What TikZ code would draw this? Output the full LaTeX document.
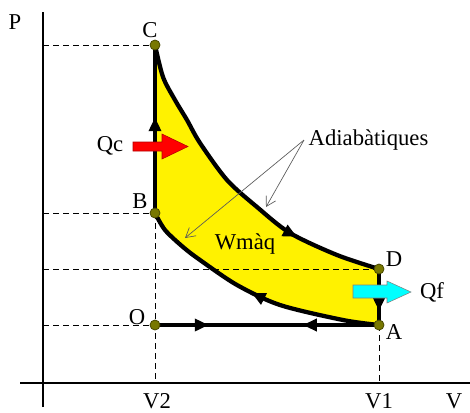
\documentclass[tikz,border=0pt]{standalone}
\usepackage{fontspec}
\setmainfont{Liberation Serif}
\usetikzlibrary{arrows.meta, decorations.markings}
\definecolor{heatout}{RGB}{0,255,255}
\definecolor{dotolive}{RGB}{120,120,0}

\begin{document}
\begin{tikzpicture}[x=0.75pt, y=-0.75pt, >={Triangle[length=10.5pt, width=9pt]},
  every node/.style={font=\fontsize{17}{20}\selectfont},
  cycleline/.style={line width=3.2pt, line join=round},
  guide/.style={dash pattern=on 4.5pt off 3pt, line width=0.6pt},
  statedot/.style={circle, fill=dotolive, draw=dotolive!60!black, line width=0.6pt, inner sep=0pt, minimum size=7.5pt},
  midarrow/.style={postaction={decorate}, decoration={markings, mark=at position #1 with {\arrow{>}}}},
  pointer/.style={->, >={Straight Barb[length=7pt, width=8pt]}, gray!70!black, line width=0.5pt}]
\useasboundingbox (0,0) rectangle (470,412);
% state points
\coordinate (C) at (155,45);
\coordinate (B) at (155,213);
\coordinate (O) at (155,325);
\coordinate (A) at (379,325);
\coordinate (D) at (379,269);
% work area between the two adiabats
\fill[yellow] plot[smooth] coordinates {(155,45) (163,77) (175,100) (187,120) (200,143) (227,180) (257,207) (290,233) (337,255) (379,269)}
  -- plot[smooth] coordinates {(379,325) (343,320) (280,305) (237,285) (200,260) (183,247) (165,230) (155,213)} -- cycle;
% axes
\coordinate (p0) at (43,407);
\coordinate (p1) at (43,12);
\coordinate (v0) at (20,383);
\coordinate (v1) at (470,383);
\draw[line width=2.2pt] (p0) -- (p1);
\draw[line width=2.2pt] (v0) -- (v1);
% guide lines
\draw[guide] (43,45) -- (C);
\draw[guide] (43,213) -- (B);
\draw[guide] (43,269) -- (D);
\draw[guide] (43,325) -- (O);
\draw[guide] (B) -- (155,383);
\draw[guide] (A) -- (379,383);
% the cycle
\draw[cycleline, midarrow=0.57] (B) -- (C);
\draw[cycleline, midarrow=0.735] plot[smooth] coordinates {(155,45) (163,77) (175,100) (187,120) (200,143) (227,180) (257,207) (290,233) (337,255) (379,269)};
\draw[cycleline, midarrow=0.75] (D) -- (A);
\draw[cycleline, midarrow=0.51] plot[smooth] coordinates {(379,325) (343,320) (280,305) (237,285) (200,260) (183,247) (165,230) (155,213)};
\draw[cycleline, midarrow=0.24] (O) -- (A);
\draw[cycleline, midarrow=0.34] (A) -- (O);
% heat in and out
\draw[fill=red, draw=red!70!black, line width=0.4pt] (133,142) -- (162,142) -- (162,134) -- (188,146.5) -- (162,159) -- (162,151) -- (133,151) -- cycle;
\draw[fill=heatout, draw=gray, line width=0.4pt] (353,285) -- (387,285) -- (387,281) -- (411,292) -- (387,303) -- (387,298) -- (353,298) -- cycle;
% dots
\foreach \pt in {C,B,O,A,D}
  \node[statedot] at (\pt) {};
% labels
\node (lP) at (15,22) {P};
\node (lC) at (150,30) {C};
\node (lB) at (140,201) {B};
\node (lO) at (137,317) {O};
\node (lD) at (394,259) {D};
\node (lA) at (394,332) {A};
\node (lV2) at (157,401) {V2};
\node (lV1) at (379,401) {V1};
\node (lV) at (454,401) {V};
\node (Qc) at (110,146) {Qc};
\node (Qf) at (432,292) {Qf};
\node (W) at (245,244) {Wmàq};
\node[anchor=west] (adiab) at (304,140) {Adiabàtiques};
\coordinate (t1) at (185,238);
\coordinate (t2) at (266,207);
\draw[pointer] (adiab.west) -- (t1);
\draw[pointer] (adiab.west) -- (t2);
\end{tikzpicture}
\end{document}
